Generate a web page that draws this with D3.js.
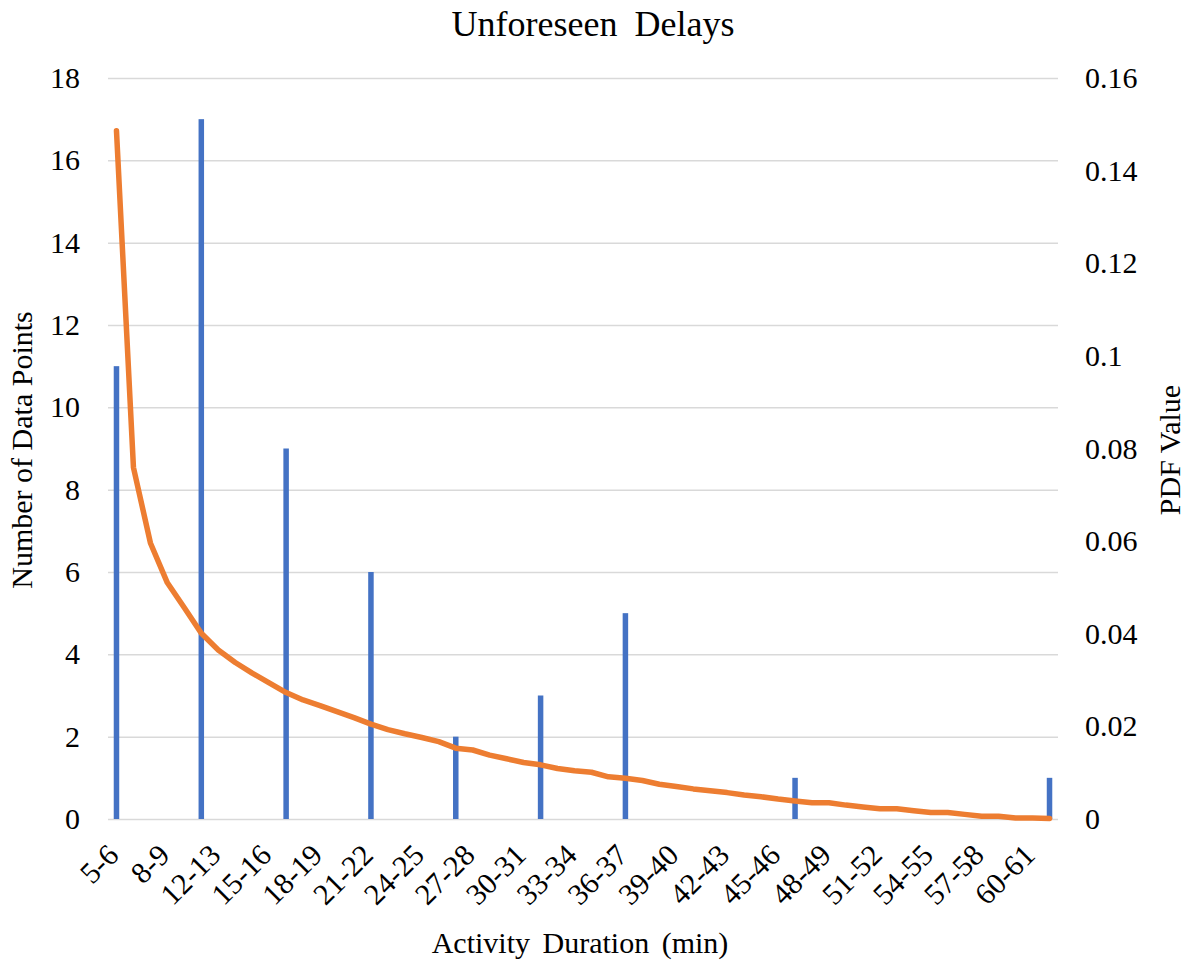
<!DOCTYPE html>
<html>
<head>
<meta charset="utf-8">
<script src="https://cdn.jsdelivr.net/npm/d3@7"></script>
<style>
  body { margin: 0; background: #ffffff; }
  svg { display: block; }
</style>
</head>
<body>
<svg id="chart" width="1185" height="964"></svg>
<script>
// Duration bins (minutes)
const categories = [
  "5-6", "6-7", "7-8", "8-9", "9-10", "11-12", "12-13", "13-14", "14-15", "15-16",
  "16-17", "17-18", "18-19", "19-20", "20-21", "21-22", "22-23", "23-24", "24-25", "25-26",
  "26-27", "27-28", "28-29", "29-30", "30-31", "31-32", "32-33", "33-34", "34-35", "35-36",
  "36-37", "37-38", "38-39", "39-40", "40-41", "41-42", "42-43", "43-44", "44-45", "45-46",
  "46-47", "47-48", "48-49", "49-50", "50-51", "51-52", "52-53", "53-54", "54-55", "55-56",
  "56-57", "57-58", "58-59", "59-60", "60-61", "61-62"
];

// Observed number of data points per bin
const counts = [
  11, 0, 0, 0, 0, 17, 0, 0, 0, 0,
  9, 0, 0, 0, 0, 6, 0, 0, 0, 0,
  2, 0, 0, 0, 0, 3, 0, 0, 0, 0,
  5, 0, 0, 0, 0, 0, 0, 0, 0, 0,
  1, 0, 0, 0, 0, 0, 0, 0, 0, 0,
  0, 0, 0, 0, 0, 1
];

// Fitted probability density per bin
const pdfValues = [
  0.1486, 0.0759, 0.0596, 0.0510, 0.0456, 0.0401, 0.0365, 0.0338, 0.0315, 0.0294,
  0.0273, 0.0257, 0.0245, 0.0232, 0.0219, 0.0205, 0.0193, 0.0184, 0.0176, 0.0167,
  0.0153, 0.0149, 0.0138, 0.0130, 0.0122, 0.0117, 0.0109, 0.0104, 0.0101, 0.0091,
  0.0088, 0.0083, 0.0075, 0.0070, 0.0065, 0.0061, 0.0057, 0.0052, 0.0048, 0.0043,
  0.0039, 0.0035, 0.0035, 0.0030, 0.0026, 0.0022, 0.0022, 0.0018, 0.0014, 0.0014,
  0.0010, 0.0006, 0.0006, 0.0002, 0.0002, 0.0001
];

const countTicks = [0, 2, 4, 6, 8, 10, 12, 14, 16, 18];
const pdfTicks = [0, 0.02, 0.04, 0.06, 0.08, 0.1, 0.12, 0.14, 0.16];

const SERIF = '"Liberation Serif", "Times New Roman", Times, serif';
const plot = { left: 108, right: 1058, top: 78, bottom: 819 };
const svg = d3.select("#chart");

const x = d3.scaleBand().domain(categories).range([plot.left, plot.right]);
const yCount = d3.scaleLinear().domain([0, 18]).range([plot.bottom, plot.top]);
const yPdf = d3.scaleLinear().domain([0, 0.16]).range([plot.bottom, plot.top]);

// Horizontal gridlines (left axis)
const grid = svg.append("g")
  .attr("transform", `translate(${plot.left},0)`)
  .call(d3.axisLeft(yCount).tickValues(countTicks)
    .tickSize(-(plot.right - plot.left)).tickFormat(""));
grid.select(".domain").remove();
grid.selectAll("line").attr("stroke", "#d9d9d9").attr("stroke-width", 1.5);

function styleLabels(g, size) {
  g.attr("font-family", SERIF).attr("font-size", size);
  g.selectAll("text")
    .style("font-family", SERIF)
    .style("font-size", size + "px")
    .attr("fill", "#000");
}

// Left axis labels
const leftAxis = svg.append("g")
  .attr("transform", `translate(${plot.left},0)`)
  .call(d3.axisLeft(yCount).tickValues(countTicks).tickSize(0).tickPadding(28).tickFormat(d3.format("d")));
leftAxis.select(".domain").remove();
styleLabels(leftAxis, 30);

// Right axis labels
const rightAxis = svg.append("g")
  .attr("transform", `translate(${plot.right},0)`)
  .call(d3.axisRight(yPdf).tickValues(pdfTicks).tickSize(0).tickPadding(27)
    .tickFormat(d => d === 0 ? "0" : String(+d.toFixed(2))));
rightAxis.select(".domain").remove();
styleLabels(rightAxis, 30);

// Bars
const barWidth = 5.5;
svg.append("g").selectAll("rect")
  .data(categories.map((c, i) => ({ c, v: counts[i] })).filter(d => d.v > 0))
  .join("rect")
  .attr("x", d => x(d.c) + x.bandwidth() / 2 - barWidth / 2)
  .attr("width", barWidth)
  .attr("y", d => yCount(d.v))
  .attr("height", d => yCount(0) - yCount(d.v))
  .attr("fill", "#4472c4");

// PDF curve
const line = d3.line()
  .x((d, i) => x(categories[i]) + x.bandwidth() / 2)
  .y(d => yPdf(d));
svg.append("path")
  .datum(pdfValues)
  .attr("d", line)
  .attr("fill", "none")
  .attr("stroke", "#ed7d31")
  .attr("stroke-width", 5.5)
  .attr("stroke-linejoin", "round")
  .attr("stroke-linecap", "round");

// Category axis (labels every third bin)
const xAxis = svg.append("g")
  .attr("transform", `translate(0,${plot.bottom})`)
  .call(d3.axisBottom(x).tickValues(categories.filter((d, i) => i % 3 === 0)).tickSize(0));
xAxis.select(".domain").remove();
styleLabels(xAxis, 30);
xAxis.selectAll("text")
  .attr("x", 0).attr("y", 0).attr("dy", 0)
  .attr("text-anchor", "end")
  .attr("transform", "translate(4,38) rotate(-45)");

// Titles
const titleText = (sel) => sel.style("font-family", SERIF).attr("fill", "#000");

svg.append("text")
  .attr("x", 593).attr("y", 36)
  .attr("text-anchor", "middle")
  .style("font-size", "36px")
  .attr("word-spacing", 8)
  .call(titleText)
  .text("Unforeseen Delays");

svg.append("text")
  .attr("x", 580).attr("y", 953)
  .attr("text-anchor", "middle")
  .style("font-size", "30px")
  .attr("word-spacing", 5)
  .call(titleText)
  .text("Activity Duration (min)");

svg.append("text")
  .attr("transform", "translate(32,450) rotate(-90)")
  .attr("text-anchor", "middle")
  .style("font-size", "30px")
  .call(titleText)
  .text("Number of Data Points");

svg.append("text")
  .attr("transform", "translate(1180,450) rotate(-90)")
  .attr("text-anchor", "middle")
  .style("font-size", "30px")
  .call(titleText)
  .text("PDF Value");
</script>
</body>
</html>
